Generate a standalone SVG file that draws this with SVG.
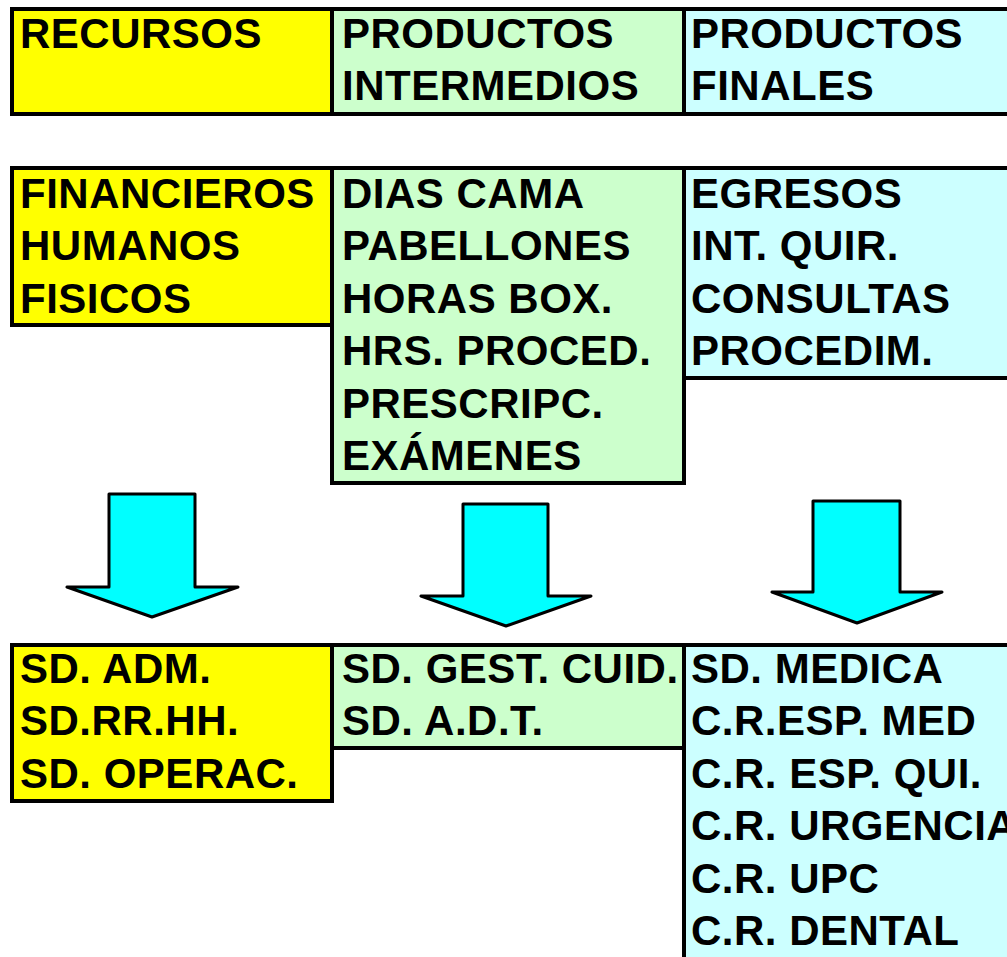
<svg xmlns="http://www.w3.org/2000/svg" width="1007" height="957" viewBox="0 0 1007 957">
<style>
.c{stroke:#000;stroke-width:4}
.y{fill:#FFFF00}
.g{fill:#CCFFCC}
.b{fill:#CCFFFF}
text{font-family:"Liberation Sans",Arial,sans-serif;font-weight:bold;font-size:42px;letter-spacing:0.5px;fill:#000}
.ar{fill:#00FFFF;stroke:#000;stroke-width:3;stroke-linejoin:round}
</style>
<rect width="1007" height="957" fill="#fff"/>
<g id="recursos-header">
<rect class="c y" x="12" y="9" width="320" height="105"/>
<text x="20" y="48">RECURSOS</text>
</g>
<g id="intermedios-header">
<rect class="c g" x="332" y="9" width="352" height="105"/>
<text x="342" y="48">PRODUCTOS</text>
<text x="342" y="100">INTERMEDIOS</text>
</g>
<g id="finales-header">
<rect class="c b" x="684" y="9" width="340" height="105"/>
<text x="691" y="48">PRODUCTOS</text>
<text x="691" y="100">FINALES</text>
</g>
<g id="recursos-list">
<rect class="c y" x="12" y="168" width="320" height="157"/>
<text x="20" y="208">FINANCIEROS</text>
<text x="20" y="260">HUMANOS</text>
<text x="20" y="313">FISICOS</text>
</g>
<g id="intermedios-list">
<rect class="c g" x="332" y="168" width="352" height="315"/>
<text x="342" y="208">DIAS CAMA</text>
<text x="342" y="260">PABELLONES</text>
<text x="342" y="313">HORAS BOX.</text>
<text x="342" y="365">HRS. PROCED.</text>
<text x="342" y="418">PRESCRIPC.</text>
<text x="342" y="470">EXÁMENES</text>
</g>
<g id="finales-list">
<rect class="c b" x="684" y="168" width="340" height="210"/>
<text x="691" y="208">EGRESOS</text>
<text x="691" y="260">INT. QUIR.</text>
<text x="691" y="313">CONSULTAS</text>
<text x="691" y="365">PROCEDIM.</text>
</g>
<g id="connectors">
<polygon class="ar" points="109,494 195,494 195,587 238,587 152,617 67,587 109,587"/>
<polygon class="ar" points="463,504 548,504 548,596 591,596 506,626 421,596 463,596"/>
<polygon class="ar" points="813,501 900,501 900,592 942,592 857,623 772,592 813,592"/>
</g>
<g id="recursos-sd">
<rect class="c y" x="12" y="645" width="320" height="156"/>
<text x="20" y="683">SD. ADM.</text>
<text x="20" y="735">SD.RR.HH.</text>
<text x="20" y="788">SD. OPERAC.</text>
</g>
<g id="intermedios-sd">
<rect class="c g" x="332" y="645" width="352" height="103"/>
<text x="342" y="683">SD. GEST. CUID.</text>
<text x="342" y="735">SD. A.D.T.</text>
</g>
<g id="finales-cr">
<rect class="c b" x="684" y="645" width="340" height="340"/>
<text x="691" y="683">SD. MEDICA</text>
<text x="691" y="735">C.R.ESP. MED</text>
<text x="691" y="788">C.R. ESP. QUI.</text>
<text x="691" y="840">C.R. URGENCIA</text>
<text x="691" y="893">C.R. UPC</text>
<text x="691" y="945">C.R. DENTAL</text>
</g>
</svg>
